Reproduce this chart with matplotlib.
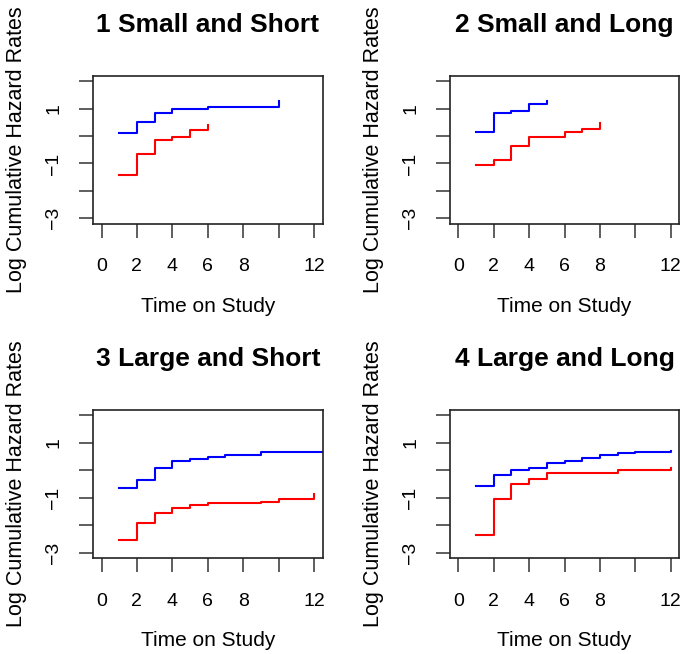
import matplotlib.pyplot as plt

plt.rcParams['font.family'] = ['Liberation Sans', 'DejaVu Sans']

titles = ["1 Small and Short", "2 Small and Long", "3 Large and Short", "4 Large and Long"]

# blue series: event times and log cumulative hazard
blue_t = [
    [1, 2, 3, 4, 6, 10],
    [1, 2, 3, 4, 5],
    [1, 2, 3, 4, 5, 6, 7, 9, 13],
    [1, 2, 3, 4, 5, 6, 7, 8, 9, 10, 12],
]
blue_h = [
    [0.10, 0.53, 0.85, 0.99, 1.06, 1.29],
    [0.15, 0.83, 0.91, 1.17, 1.29],
    [-0.66, -0.35, 0.10, 0.33, 0.41, 0.50, 0.56, 0.66, 0.66],
    [-0.57, -0.17, 0.02, 0.10, 0.27, 0.34, 0.44, 0.56, 0.63, 0.67, 0.69],
]

# red series
red_t = [
    [1, 2, 3, 4, 5, 6],
    [1, 2, 3, 4, 6, 7, 8],
    [1, 2, 3, 4, 5, 6, 9, 10, 12],
    [1, 2, 3, 4, 5, 9, 12],
]
red_h = [
    [-1.41, -0.64, -0.14, -0.04, 0.22, 0.41],
    [-1.04, -0.86, -0.37, -0.04, 0.16, 0.26, 0.47],
    [-2.53, -1.93, -1.56, -1.39, -1.27, -1.21, -1.14, -1.04, -0.88],
    [-2.36, -1.03, -0.49, -0.30, -0.09, 0.00, 0.10],
]

x_ticks = [0, 2, 4, 6, 8, 10, 12]
x_labels = ["0", "2", "4", "6", "8", "", "12"]
y_ticks = [-3, -2, -1, 0, 1, 2]
y_labels = ["\u22123", "", "\u22121", "", "1", ""]

W, H = 685, 654
fig = plt.figure(figsize=(W / 100, H / 100), dpi=100)

# box positions in pixels: left, top, right, bottom
boxes = [
    (93, 76, 322.5, 223.5),
    (450, 76, 679, 223.5),
    (93, 410, 322.5, 558),
    (450, 410, 679, 558),
]

for i in range(4):
    l, t, r, b = boxes[i]
    ax = fig.add_axes([l / W, 1 - b / H, (r - l) / W, (b - t) / H])
    ax.step(blue_t[i], blue_h[i], where='post', color='#0000ff', lw=1.5)
    ax.step(red_t[i], red_h[i], where='post', color='#ff0000', lw=1.5)
    ax.set_xlim(-0.48, 12.48)
    ax.set_ylim(-3.2, 2.2)
    ax.set_xticks(x_ticks)
    ax.set_xticklabels(x_labels, fontsize=14)
    ax.set_yticks(y_ticks)
    ax.set_yticklabels(y_labels, fontsize=14, rotation=90, va='center')
    ax.tick_params(length=10, width=1.1, color='#333333')
    ax.tick_params(axis='x', pad=15)
    ax.tick_params(axis='y', pad=12)
    for s in ax.spines.values():
        s.set_linewidth(1.2)
        s.set_color('#222222')
    ax.set_title(titles[i], fontsize=19, fontweight='bold', pad=32)
    ax.set_xlabel("Time on Study", fontsize=15, labelpad=15.5)
    ax.set_ylabel("Log Cumulative Hazard Rates", fontsize=15.5, labelpad=13)

fig.savefig("out.png", dpi=100)
